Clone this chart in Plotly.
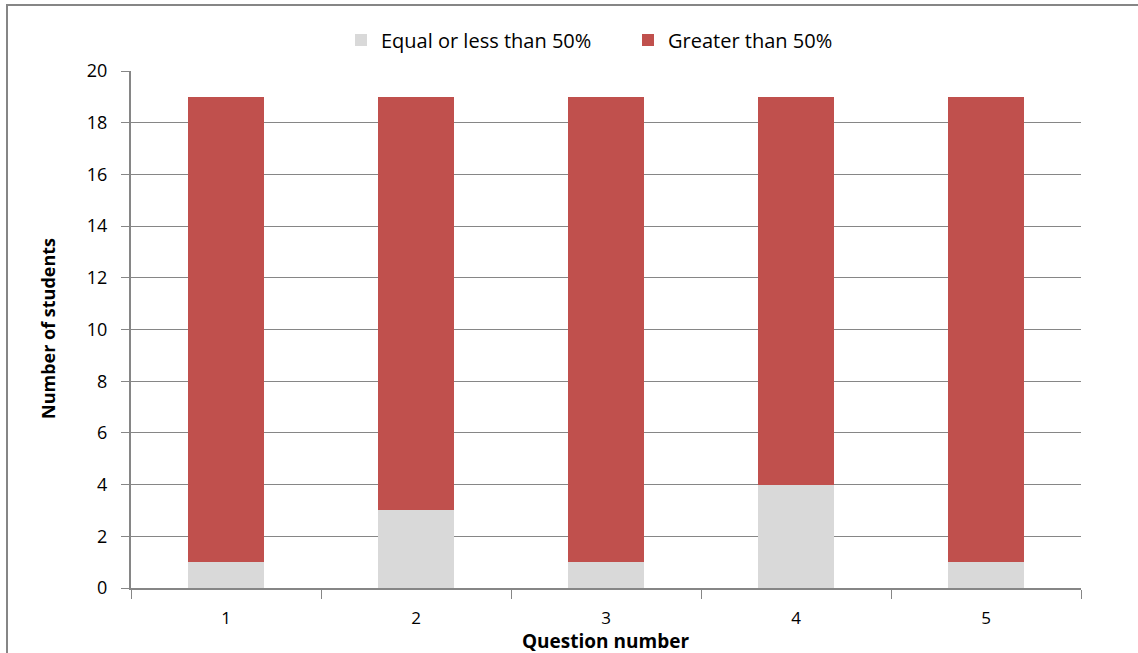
import plotly.graph_objects as go

questions = ["1", "2", "3", "4", "5"]
equal_or_less = [1, 3, 1, 4, 1]
greater = [18, 16, 18, 15, 18]
y_ticks = [0, 2, 4, 6, 8, 10, 12, 14, 16, 18, 20]

W, H = 1138, 653
L, R, T, B = 131, 1081, 71, 588
pw, ph = R - L, B - T

def px_x(x):
    return (x - L) / pw

def px_y(y):
    return (B - y) / ph

font_family = "Open Sans, Noto Sans, sans-serif"
grey_line = "#868686"

fig = go.Figure()
fig.add_trace(go.Bar(x=questions, y=equal_or_less, name="Equal or less than 50%",
                     marker=dict(color="#D9D9D9", line=dict(width=0)), width=0.405))
fig.add_trace(go.Bar(x=questions, y=greater, name="Greater than 50%",
                     marker=dict(color="#C0504D", line=dict(width=0)), width=0.405))

fig.update_layout(
    barmode="stack",
    width=W, height=H,
    margin=dict(l=L, r=W - R, t=T, b=H - B, autoexpand=False),
    plot_bgcolor="white", paper_bgcolor="white",
    font=dict(family=font_family, size=18, color="black"),
    showlegend=True,
    legend=dict(orientation="h", x=px_x(628), xanchor="center", y=px_y(40), yanchor="middle",
                font=dict(size=20), traceorder="normal", entrywidth=242),
)

fig.update_xaxes(
    type="category", tickson="boundaries", ticks="outside", ticklen=9, tickcolor=grey_line,
    showline=True, linecolor=grey_line, linewidth=2, showgrid=False,
    tickfont=dict(size=17), range=[-0.5, 4.5], ticklabelstandoff=14,
)
fig.update_yaxes(
    range=[0, 20], tickvals=y_ticks, ticks="outside", ticklen=8, tickcolor=grey_line,
    showline=True, linecolor=grey_line, linewidth=2, showgrid=True, gridcolor=grey_line,
    gridwidth=1, tickfont=dict(size=18), zeroline=False, ticklabelstandoff=10,
)

fig.add_annotation(text="<b>Number of students</b>", xref="paper", yref="paper",
                   x=px_x(48), y=px_y(329), textangle=-90, showarrow=False,
                   font=dict(size=18), xanchor="center", yanchor="middle")
fig.add_annotation(text="<b>Question number</b>", xref="paper", yref="paper",
                   x=px_x(605), y=px_y(641), showarrow=False,
                   font=dict(size=19), xanchor="center", yanchor="middle")

fig.add_shape(type="rect", xref="paper", yref="paper",
              x0=px_x(7), y0=px_y(5), x1=px_x(1160), y1=px_y(680),
              line=dict(color=grey_line, width=2), layer="below")

fig.write_html("out.html", post_script="document.body.style.margin='0';",
               config={"displayModeBar": False})
